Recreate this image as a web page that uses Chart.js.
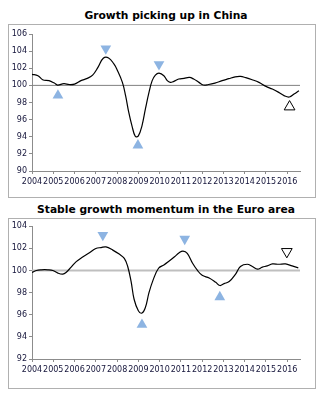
<!DOCTYPE html>
<html>
<head>
<meta charset="utf-8">
<script src="https://cdn.jsdelivr.net/npm/chart.js@4.4.0/dist/chart.umd.min.js"></script>
<style>
  body { margin: 0; background: #fff; width: 330px; height: 396px; position: relative; overflow: hidden; }
  .title { position: absolute; left: 0; width: 332px; text-align: center; font: bold 10.7px "DejaVu Sans", sans-serif; color: #000; line-height: 13px; }
  .box { position: absolute; left: 8px; width: 306px; border: 1px solid #b0b0b0; background: #fff; }
  canvas { display: block; }
</style>
</head>
<body>
<div class="title" style="top:9px">Growth picking up in China</div>
<div class="box" style="top:24px;height:172px"><canvas id="china" width="306" height="172"></canvas></div>
<div class="title" style="top:203px">Stable growth momentum in the Euro area</div>
<div class="box" style="top:218px;height:169px"><canvas id="euro" width="306" height="169"></canvas></div>
<script>
const yearTicks = [2004, 2005, 2006, 2007, 2008, 2009, 2010, 2011, 2012, 2013, 2014, 2015, 2016];
const xMin = 2004, xMax = 2016.6;
const baseline = 100;

// China leading indicator
const chinaYears = [2004.0, 2004.28, 2004.5, 2004.8, 2005.05, 2005.2, 2005.5, 2005.75, 2006.0, 2006.3, 2006.6, 2006.85,
  2007.1, 2007.35, 2007.6, 2007.85, 2008.0, 2008.25, 2008.4, 2008.55, 2008.7, 2008.86, 2009.0, 2009.17, 2009.33,
  2009.5, 2009.65, 2009.8, 2009.97, 2010.2, 2010.36, 2010.5, 2010.67, 2010.9, 2011.15, 2011.4, 2011.6, 2011.85,
  2012.05, 2012.3, 2012.6, 2012.94, 2013.25, 2013.55, 2013.8, 2014.05, 2014.35, 2014.67, 2015.0, 2015.3, 2015.6,
  2015.85, 2016.1, 2016.32, 2016.55];
const chinaValues = [101.29, 101.13, 100.66, 100.55, 100.27, 100.04, 100.2, 100.1, 100.15, 100.55, 100.82, 101.2,
  102.1, 103.16, 103.2, 102.5, 101.83, 100.35, 98.8, 96.84, 95.28, 94.03, 94.1, 95.28, 97.23,
  99.18, 100.55, 101.2, 101.44, 101.13, 100.55, 100.35, 100.47, 100.74, 100.82, 100.93, 100.74, 100.35,
  100.04, 100.1, 100.27, 100.55, 100.78, 101.0, 101.05, 100.9, 100.66, 100.35, 99.88, 99.57, 99.18,
  98.8, 98.64, 98.99, 99.38];
const chinaMarkYears = [2005.22, 2007.47, 2008.98, 2009.97, 2016.11];
const chinaMarkValues = [98.83, 104.3, 93.0, 102.45, 97.5];
const chinaMarkUp = [true, false, true, false, true];
const chinaMarkHollow = [false, false, false, false, true];

// Euro area leading indicator
const euroYears = [2004.0, 2004.2, 2004.44, 2004.75, 2004.98, 2005.22, 2005.45, 2005.6, 2005.84, 2006.08, 2006.4, 2006.7,
  2007.0, 2007.25, 2007.48, 2007.8, 2008.1, 2008.34, 2008.5, 2008.66, 2008.8, 2009.0, 2009.17, 2009.33, 2009.5,
  2009.7, 2009.95, 2010.2, 2010.45, 2010.7, 2010.92, 2011.1, 2011.3, 2011.55, 2011.78, 2012.0, 2012.33, 2012.64,
  2012.83, 2013.03, 2013.27, 2013.58, 2013.8, 2014.12, 2014.36, 2014.6, 2014.83, 2015.06, 2015.3, 2015.6, 2015.92,
  2016.23, 2016.52];
const euroValues = [99.82, 100.0, 100.06, 100.06, 100.0, 99.76, 99.67, 99.82, 100.3, 100.8, 101.24, 101.6,
  101.98, 102.07, 102.13, 101.84, 101.48, 101.1, 100.36, 99.0, 97.4, 96.36, 96.15, 96.65, 97.99,
  99.17, 100.2, 100.5, 100.86, 101.24, 101.6, 101.75, 101.54, 100.65, 100.0, 99.56, 99.32, 98.93,
  98.64, 98.81, 99.0, 99.7, 100.36, 100.56, 100.36, 100.12, 100.3, 100.41, 100.59, 100.56, 100.59,
  100.41, 100.24];
const euroMarkYears = [2007.33, 2009.17, 2011.18, 2012.83, 2015.98];
const euroMarkValues = [103.2, 95.1, 102.85, 97.6, 101.7];
const euroMarkUp = [false, true, false, true, false];
const euroMarkHollow = [false, false, false, false, true];

const tickColor = '#14143a';
const axisColor = '#8c8c8c';
const markBlue = '#8db4e2';

function pairs(xs, ys) {
  return xs.map((x, i) => ({ x: x, y: ys[i] }));
}

function makeChart(id, years, values, mYears, mValues, mUp, mHollow, yMin, yMax, refColor, refWidth, padTop, xHeight) {
  const ctx = document.getElementById(id).getContext('2d');
  return new Chart(ctx, {
    data: {
      datasets: [
        {
          type: 'scatter',
          data: pairs(mYears, mValues),
          pointStyle: 'triangle',
          pointRadius: 6.2,
          rotation: mUp.map(u => u ? 0 : 180),
          backgroundColor: mHollow.map(h => h ? '#ffffff' : markBlue),
          borderColor: mHollow.map(h => h ? '#000000' : markBlue),
          borderWidth: mHollow.map(h => h ? 1 : 0),
          clip: false
        },
        {
          type: 'line',
          data: pairs(years, values),
          borderColor: '#000',
          borderWidth: 1.2,
          pointRadius: 0,
          tension: 0.4,
          fill: false
        },
        {
          type: 'line',
          data: [{ x: xMin, y: baseline }, { x: xMax, y: baseline }],
          borderColor: refColor,
          borderWidth: refWidth,
          pointRadius: 0,
          fill: false
        }
      ]
    },
    options: {
      responsive: false,
      animation: false,
      devicePixelRatio: 1,
      layout: { padding: { top: padTop, right: 15, bottom: 0, left: 0 } },
      plugins: { legend: { display: false }, tooltip: { enabled: false }, title: { display: false } },
      scales: {
        x: {
          type: 'linear',
          min: xMin,
          max: xMax,
          afterBuildTicks: s => { s.ticks = yearTicks.map(v => ({ value: v })); },
          afterFit: s => { s.height = xHeight; },
          border: { color: axisColor, width: 1 },
          grid: { drawOnChartArea: false, drawTicks: true, tickLength: 3, color: axisColor },
          ticks: {
            autoSkip: false, maxRotation: 0, padding: 3,
            color: tickColor, font: { family: 'DejaVu Sans', size: 8 },
            callback: v => String(v)
          }
        },
        y: {
          min: yMin,
          max: yMax,
          afterFit: s => { s.width = 23; },
          border: { color: axisColor, width: 1 },
          grid: { drawOnChartArea: false, drawTicks: true, tickLength: 3, color: axisColor },
          ticks: {
            stepSize: 2, padding: 2,
            color: tickColor, font: { family: 'DejaVu Sans', size: 8 },
            callback: v => String(v)
          }
        }
      }
    }
  });
}

makeChart('china', chinaYears, chinaValues, chinaMarkYears, chinaMarkValues, chinaMarkUp, chinaMarkHollow,
  90, 106, '#808080', 1, 9, 26);
makeChart('euro', euroYears, euroValues, euroMarkYears, euroMarkValues, euroMarkUp, euroMarkHollow,
  92, 104, '#bfbfbf', 2, 5, 29);
</script>
</body>
</html>
